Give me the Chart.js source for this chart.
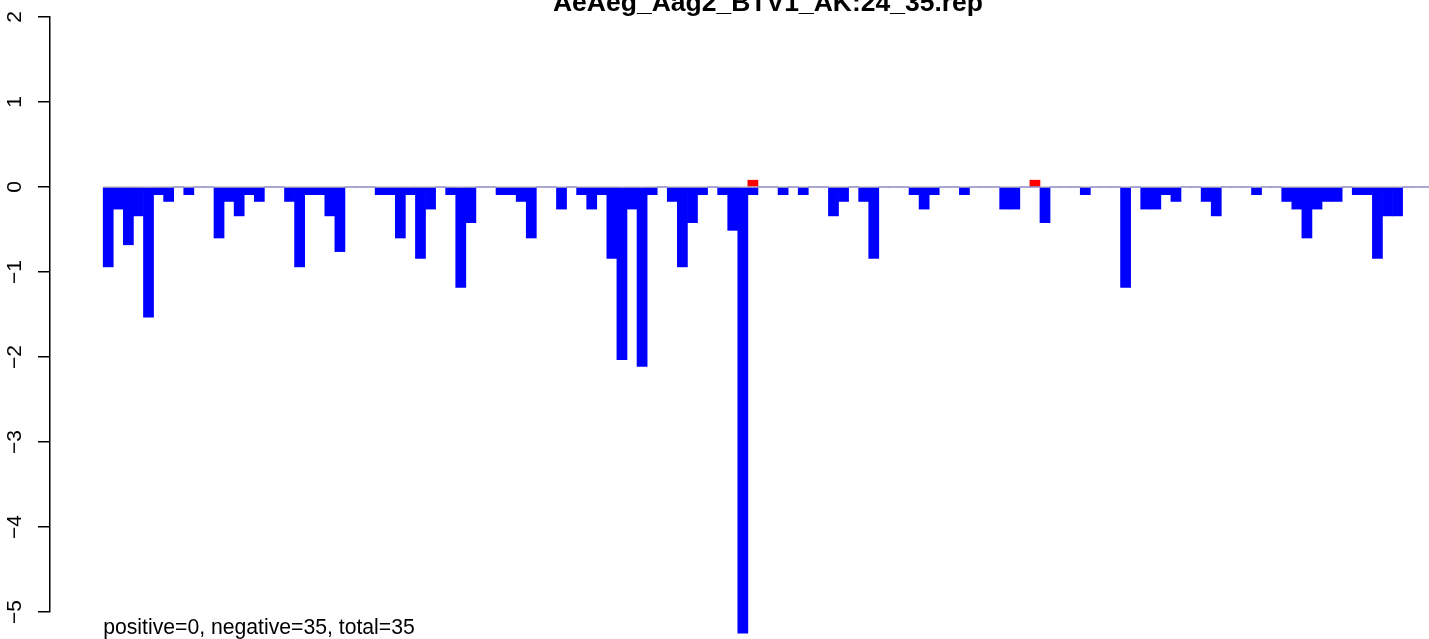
<!DOCTYPE html>
<html>
<head>
<meta charset="utf-8">
<script src="https://cdn.jsdelivr.net/npm/chart.js@4/dist/chart.umd.min.js"></script>
<style>
  html, body { margin: 0; padding: 0; background: #fff; overflow: hidden; }
  #caja { width: 1536px; height: 639px; }
</style>
</head>
<body>
<div id="caja"><canvas id="grafico" width="1536" height="639"></canvas></div>
<script>
// Datos
const titulo = 'AeAeg_Aag2_BTV1_AK:24_35.rep';
const resumen = 'positive=0, negative=35, total=35';
const yTicks = [-5, -4, -3, -2, -1, 0, 1, 2];

// una barra por posición (132), valores negativos en azul
const valoresAzul = [
  -0.94, -0.26, -0.68, -0.34, -1.53, -0.09, -0.17, 0, -0.09, 0, 0, -0.60,
  -0.17, -0.34, -0.09, -0.17, 0, 0, -0.17, -0.94, -0.09, -0.09, -0.34, -0.76,
  0, 0, 0, -0.09, -0.09, -0.60, -0.09, -0.84, -0.26, 0, -0.09, -1.18,
  -0.42, 0, 0, -0.09, -0.09, -0.17, -0.60, 0, 0, -0.26, 0, -0.09,
  -0.26, -0.09, -0.84, -2.03, -0.26, -2.11, -0.09, 0, -0.17, -0.94, -0.42, -0.09,
  0, -0.09, -0.51, -5.25, -0.09, 0, 0, -0.09, 0, -0.09, 0, 0,
  -0.34, -0.17, 0, -0.17, -0.84, 0, 0, 0, -0.09, -0.26, -0.09, 0,
  0, -0.09, 0, 0, 0, -0.26, -0.26, 0, 0, -0.42, 0, 0,
  0, -0.09, 0, 0, 0, -1.18, 0, -0.26, -0.26, -0.09, -0.17, 0,
  0, -0.17, -0.34, 0, 0, 0, -0.09, 0, 0, -0.17, -0.26, -0.60,
  -0.26, -0.17, -0.17, 0, -0.09, -0.09, -0.84, -0.34, -0.34, 0, 0, 0
];

// barras rojas (positivas)
const posRojo = [64, 92];
const valoresRojo = [0.08, 0.08];

const n = valoresAzul.length;

const puntosAzul = valoresAzul.map((v, i) => ({ x: i + 0.5, y: v }));
const puntosRojo = posRojo.map((p, k) => ({ x: p + 0.5, y: valoresRojo[k] }));

// Textos del título y del pie
const textos = {
  id: 'textos',
  afterDraw(chart) {
    const ctx = chart.ctx;
    const area = chart.chartArea;
    const xs = chart.scales.x;
    ctx.save();
    ctx.fillStyle = '#000';
    ctx.textBaseline = 'alphabetic';
    ctx.textAlign = 'center';
    ctx.font = 'bold 26.5px "Liberation Sans", Arial, sans-serif';
    ctx.fillText(titulo, (area.left + area.right) / 2, 11);
    ctx.textAlign = 'left';
    ctx.font = '21.2px "Liberation Sans", Arial, sans-serif';
    ctx.fillText(resumen, xs.getPixelForValue(0), 634);
    ctx.restore();
  }
};

new Chart(document.getElementById('grafico'), {
  type: 'bar',
  data: {
    datasets: [
      {
        type: 'line',
        data: [{ x: 0, y: 0 }, { x: n, y: 0 }],
        borderColor: '#a6a6a6',
        borderWidth: 1.2,
        pointRadius: 0,
        clip: false,
        order: 0
      },
      {
        data: puntosAzul,
        backgroundColor: '#0000ff',
        borderWidth: 0,
        barPercentage: 1,
        categoryPercentage: 1,
        grouped: false,
        clip: false,
        order: 1
      },
      {
        data: puntosRojo,
        backgroundColor: '#ff0000',
        borderWidth: 0,
        barPercentage: 1,
        categoryPercentage: 1,
        grouped: false,
        clip: false,
        order: 1
      }
    ]
  },
  options: {
    responsive: false,
    animation: false,
    layout: { padding: { left: 0, right: 50, top: 17, bottom: 27 } },
    plugins: {
      legend: { display: false },
      tooltip: { enabled: false }
    },
    scales: {
      x: {
        type: 'linear',
        offset: false,
        min: -0.04 * n,
        max: n * 1.04,
        display: false
      },
      y: {
        min: -5,
        max: 2,
        afterBuildTicks: (s) => { s.ticks = yTicks.map(v => ({ value: v })); },
        afterFit: (s) => {
          s.width = 50;
          s.paddingTop = 0;
          s.paddingBottom = 0;
        },
        grid: {
          drawOnChartArea: false,
          drawTicks: true,
          tickLength: 12,
          color: '#000',
          lineWidth: 1.5
        },
        border: { display: true, color: '#000', width: 1.5 },
        ticks: {
          minRotation: 90,
          maxRotation: 90,
          crossAlign: 'center',
          padding: 11,
          color: '#000',
          font: { family: '"Liberation Sans", Arial, sans-serif', size: 21 },
          callback: (v) => String(v).replace('-', '\u2212')
        }
      }
    }
  },
  plugins: [textos]
});
</script>
</body>
</html>
